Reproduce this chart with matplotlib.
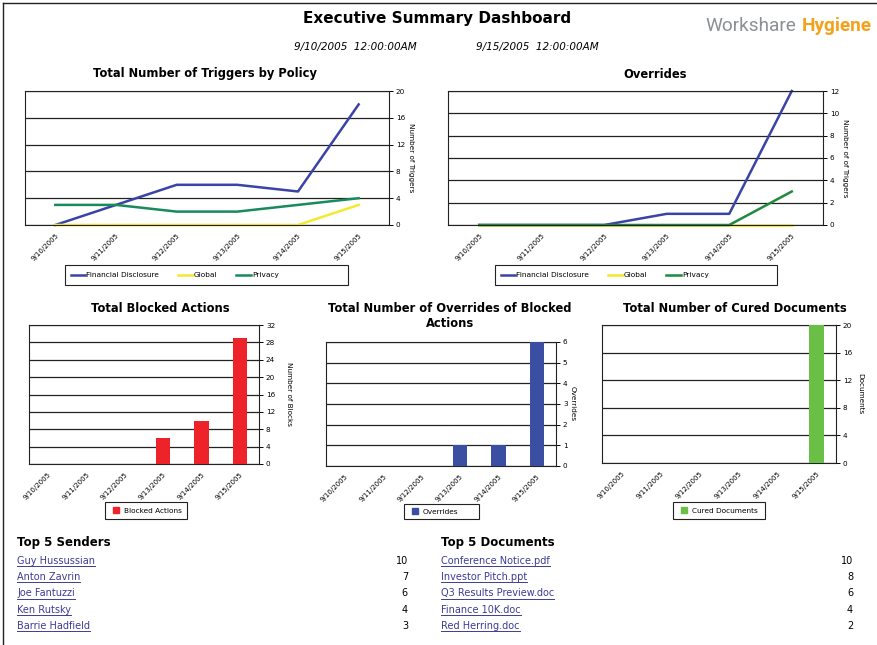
import matplotlib
matplotlib.use("Agg")
import matplotlib.pyplot as plt
from matplotlib.lines import Line2D
from matplotlib.patches import Patch, Rectangle

W, H = 877, 645

dates = ["9/10/2005", "9/11/2005", "9/12/2005", "9/13/2005", "9/14/2005", "9/15/2005"]
policies = ["Financial Disclosure", "Global", "Privacy"]

triggers_fd = [0, 3, 6, 6, 5, 18]
triggers_global = [0, 0, 0, 0, 0, 3]
triggers_privacy = [3, 3, 2, 2, 3, 4]

overrides_fd = [0, 0, 0, 1, 1, 12]
overrides_global = [0, 0, 0, 0, 0, 0]
overrides_privacy = [0, 0, 0, 0, 0, 3]

blocked = [0, 0, 0, 6, 10, 29]
blocked_overrides = [0, 0, 0, 1, 1, 6]
cured = [0, 0, 0, 0, 0, 20]

senders = ["Guy Hussussian", "Anton Zavrin", "Joe Fantuzzi", "Ken Rutsky", "Barrie Hadfield"]
sender_counts = [10, 7, 6, 4, 3]
documents = ["Conference Notice.pdf", "Investor Pitch.ppt", "Q3 Results Preview.doc",
             "Finance 10K.doc", "Red Herring.doc"]
document_counts = [10, 8, 6, 4, 2]

line_colors = ["#3a44a4", "#f2ea2e", "#188a5c"]
line_colors2 = ["#3a44a4", "#f2ea2e", "#1f8a3e"]
LINK = "#3c3c96"


def fx(x):
    return x / W


def fy(y):
    return 1 - y / H


def box(l, t, r, b):
    return [l / W, 1 - b / H, (r - l) / W, (b - t) / H]


def setup(ax, ymax, ystep, ylabel, label_x, l, r):
    ax.set_xlim(-0.5, 5.5)
    ax.set_ylim(0, ymax)
    ax.set_yticks(range(0, ymax + 1, ystep))
    ax.yaxis.tick_right()
    ax.set_xticks(range(len(dates)))
    ax.set_xticklabels(dates, rotation=45, ha="right", rotation_mode="anchor", fontsize=5)
    ax.tick_params(axis="x", length=0, pad=5)
    ax.tick_params(axis="y", length=3, labelsize=5.2, pad=2, width=0.7)
    ax.grid(axis="y", color="#222222", lw=0.9)
    ax.set_axisbelow(True)
    for s in ax.spines.values():
        s.set_color("#222222")
        s.set_linewidth(0.8)
    ax.set_ylabel(ylabel, rotation=-90, fontsize=5.2, ha="center", va="center")
    ax.yaxis.set_label_coords((label_x - l) / (r - l), 0.5)


def frame(l, t, r, b):
    fig.add_artist(Rectangle((l / W, 1 - b / H), (r - l) / W, (b - t) / H,
                             transform=fig.transFigure, fill=False,
                             edgecolor="#222222", lw=0.8))


fig = plt.figure(figsize=(W / 100, H / 100), dpi=100)

# page border
fig.add_artist(Line2D([fx(3), 1], [fy(3), fy(3)], color="#222222", lw=1))
fig.add_artist(Line2D([fx(3), fx(3)], [0, fy(3)], color="#222222", lw=1))

# header
fig.text(fx(437), fy(18), "Executive Summary Dashboard", ha="center", va="center",
         fontsize=11, fontweight="bold")
fig.text(fx(355), fy(47), "9/10/2005  12:00:00AM", ha="center", va="center",
         fontsize=7.5, style="italic")
fig.text(fx(537), fy(47), "9/15/2005  12:00:00AM", ha="center", va="center",
         fontsize=7.5, style="italic")
logo1 = fig.text(fx(705), fy(31), "Workshare", ha="left", va="baseline", fontsize=15,
                 color="#8b9096", family="Roboto")
logo2 = fig.text(fx(872), fy(31), "Hygiene", ha="right", va="baseline", fontsize=15,
                 fontweight="bold", color="#f4a11c", family="Roboto")

# chart 1: triggers by policy
ax1 = fig.add_axes(box(25, 91, 389, 225))
for vals, c, name in zip([triggers_fd, triggers_global, triggers_privacy], line_colors, policies):
    ax1.plot(range(len(dates)), vals, color=c, lw=1.8, label=name, clip_on=False)
setup(ax1, 20, 4, "Number of Triggers", 411, 25, 389)
fig.text(fx(205), fy(74), "Total Number of Triggers by Policy", ha="center", va="center",
         fontsize=8.3, fontweight="bold")

# chart 2: overrides
ax2 = fig.add_axes(box(448, 91, 823, 225))
for vals, c, name in zip([overrides_fd, overrides_global, overrides_privacy], line_colors2, policies):
    ax2.plot(range(len(dates)), vals, color=c, lw=1.8, label=name, clip_on=False)
setup(ax2, 12, 2, "Number of of Triggers", 845, 448, 823)
fig.text(fx(655), fy(74), "Overrides", ha="center", va="center",
         fontsize=8.3, fontweight="bold")

for ax, (l, t, r, b) in [(ax1, (65, 265, 348, 285)), (ax2, (495, 265, 777, 285))]:
    frame(l, t, r, b)
    ax.legend(loc="center left", bbox_to_anchor=(fx(l + 2), fy((t + b) / 2)),
              bbox_transform=fig.transFigure, ncol=3, fontsize=5.3, frameon=False,
              handlelength=2.0, handletextpad=0.1, columnspacing=2.6, borderpad=0)

# bar charts
bar_specs = [
    (blocked, "#ee2229", (29, 325, 259, 464), 32, 4, "Number of Blocks", 289,
     "Blocked Actions", (105, 502, 187, 519)),
    (blocked_overrides, "#3a4fa2", (326, 342, 556, 466), 6, 1, "Overrides", 573,
     "Overrides", (404, 504, 479, 519)),
    (cured, "#6abf46", (602, 325, 836, 463), 20, 4, "Documents", 860,
     "Cured Documents", (673, 502, 765, 519)),
]
for vals, c, (l, t, r, b), ymax, ystep, ylab, lx, name, (ll, lt, lr, lb) in bar_specs:
    ax = fig.add_axes(box(l, t, r, b))
    ax.bar(range(len(dates)), vals, width=0.38, color=c, zorder=3)
    setup(ax, ymax, ystep, ylab, lx, l, r)
    frame(ll, lt, lr, lb)
    fig.legend(handles=[Patch(color=c, label=name)], loc="center left",
               bbox_to_anchor=(fx(ll + 4), fy((lt + lb) / 2)), fontsize=5.3, frameon=False,
               handlelength=0.9, handleheight=0.9, handletextpad=0.6, borderpad=0)

fig.text(fx(160), fy(308), "Total Blocked Actions", ha="center", va="center",
         fontsize=8.3, fontweight="bold")
fig.text(fx(450), fy(316), "Total Number of Overrides of Blocked\nActions", ha="center",
         va="center", fontsize=8.3, fontweight="bold", linespacing=1.25)
fig.text(fx(735), fy(308), "Total Number of Cured Documents", ha="center", va="center",
         fontsize=8.3, fontweight="bold")

# top 5 tables
links = []
fig.text(fx(17), fy(546), "Top 5 Senders", fontsize=8.5, fontweight="bold", va="baseline")
fig.text(fx(441), fy(546), "Top 5 Documents", fontsize=8.5, fontweight="bold", va="baseline")
for i in range(5):
    y = 564 + i * 16.2
    links.append(fig.text(fx(17), fy(y), senders[i], fontsize=7, color=LINK, va="baseline"))
    fig.text(fx(408), fy(y), str(sender_counts[i]), fontsize=7, ha="right", va="baseline")
    links.append(fig.text(fx(441), fy(y), documents[i], fontsize=7, color=LINK, va="baseline"))
    fig.text(fx(853), fy(y), str(document_counts[i]), fontsize=7, ha="right", va="baseline")

fig.canvas.draw()
r = fig.canvas.get_renderer()

# fit the logo between x=705 and x=872
w1 = logo1.get_window_extent(renderer=r).width
w2 = logo2.get_window_extent(renderer=r).width
scale = (872 - 705 - 6) / (w1 + w2)
logo1.set_fontsize(15 * scale)
logo2.set_fontsize(15 * scale)

for t in links:
    bb = t.get_window_extent(renderer=r)
    y = t.get_position()[1] - 2.2 / H
    fig.add_artist(Line2D([bb.x0 / W, bb.x1 / W], [y, y], color=LINK, lw=0.7))

fig.savefig("out.png", dpi=100)
